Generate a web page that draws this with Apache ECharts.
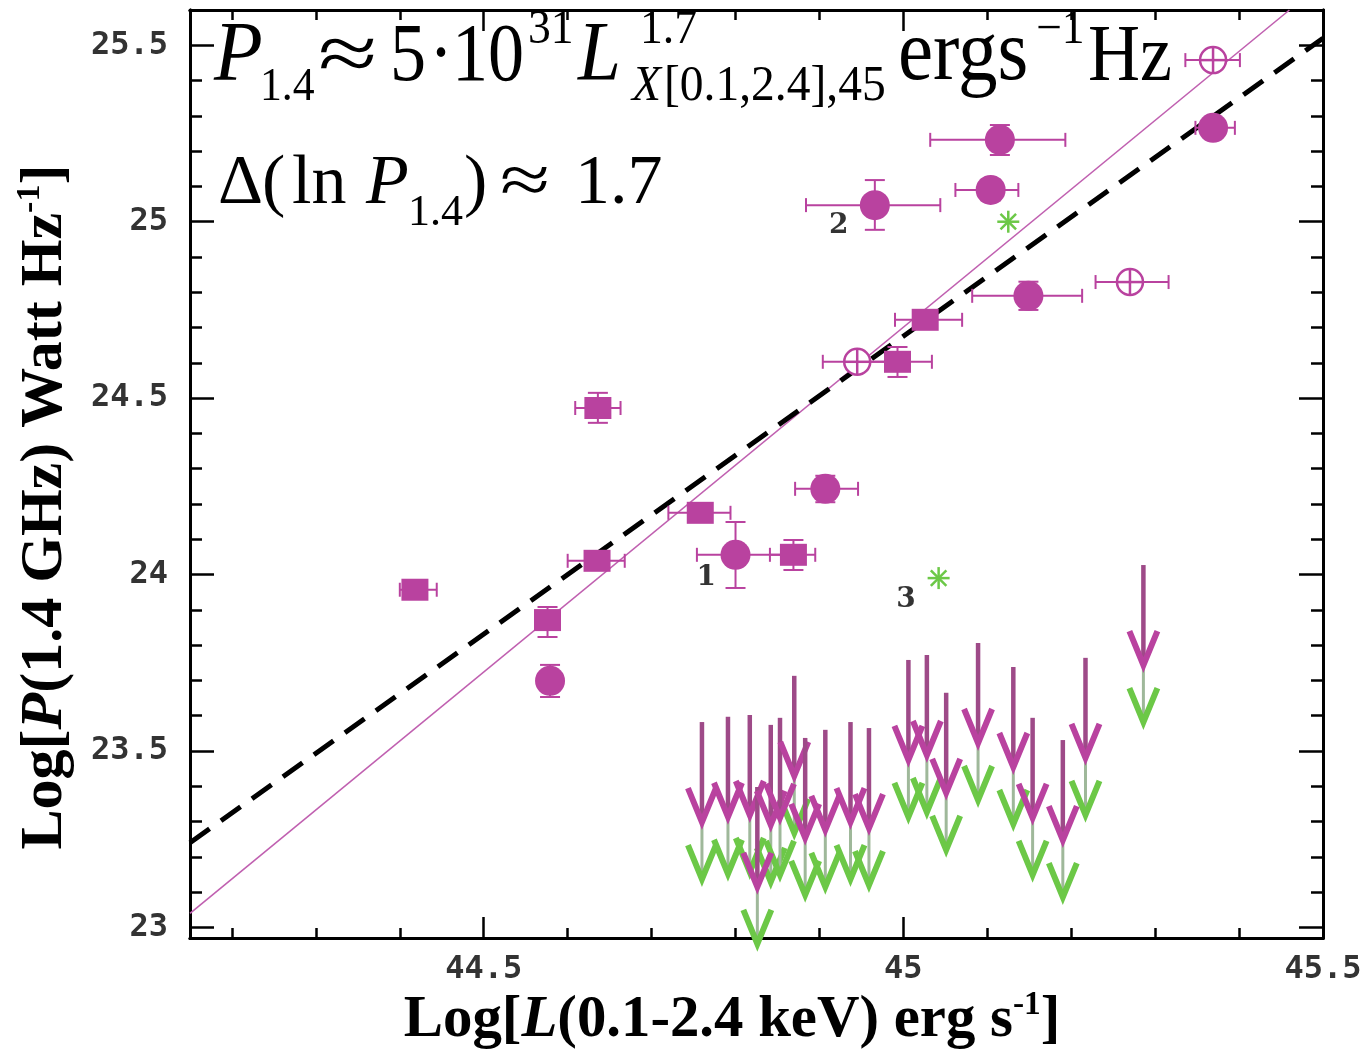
<!DOCTYPE html>
<html>
<head>
<meta charset="utf-8">
<title>P1.4 - LX</title>
<script src="https://cdn.jsdelivr.net/npm/echarts@6/dist/echarts.min.js"></script>
<style>html,body{margin:0;padding:0;background:#fff;} #main{width:1368px;height:1052px;}</style>
</head>
<body>
<div id="main"></div>
<script>
// axis ranges and ticks
var xMin = 44.15, xMax = 45.5;
var yMin = 22.97, yMax = 25.6;
var xMajor = [44.5, 45, 45.5];
var xMinor = [44.2, 44.3, 44.4, 44.6, 44.7, 44.8, 44.9, 45.1, 45.2, 45.3, 45.4];
var yMajor = [23, 23.5, 24, 24.5, 25, 25.5];
var yMinor = [23.1, 23.2, 23.3, 23.4, 23.6, 23.7, 23.8, 23.9, 24.1, 24.2, 24.3, 24.4,
              24.6, 24.7, 24.8, 24.9, 25.1, 25.2, 25.3, 25.4];

// [x, y, xlo, xhi, ylo, yhi]
var circles = [
  [45.115, 25.232, 45.032, 45.193, 25.189, 25.274],
  [45.104, 25.090, 45.062, 45.137, 25.060, 25.120],
  [44.966, 25.047, 44.884, 45.044, 24.977, 25.118],
  [45.369, 25.266, 45.348, 45.395, 25.240, 25.290],
  [45.149, 24.790, 45.082, 45.213, 24.750, 24.830],
  [44.907, 24.243, 44.871, 44.946, 24.205, 24.280],
  [44.800, 24.056, 44.754, 44.856, 23.962, 24.149],
  [44.579, 23.699, 44.565, 44.593, 23.653, 23.744]
];
var squares = [
  [44.636, 24.472, 44.609, 44.663, 24.430, 24.515],
  [44.418, 23.957, 44.400, 44.444, 23.957, 23.957],
  [44.576, 23.871, 44.576, 44.576, 23.823, 23.908],
  [44.635, 24.039, 44.600, 44.668, 24.039, 24.039],
  [44.758, 24.175, 44.720, 44.794, 24.175, 24.175],
  [44.869, 24.056, 44.841, 44.895, 24.013, 24.098],
  [44.993, 24.603, 44.956, 45.034, 24.560, 24.645],
  [45.026, 24.722, 44.990, 45.070, 24.722, 24.722]
];
var openCircles = [
  [44.945, 24.603, 44.904, 44.996, 24.603, 24.603],
  [45.270, 24.829, 45.229, 45.316, 24.829, 24.829],
  [45.369, 25.458, 45.336, 45.401, 25.458, 25.458]
];
var stars = [[45.125, 25.000], [45.042, 23.990]];
// upper limits [x, y]
var limits = [
  [44.760, 23.582], [44.791, 23.597], [44.817, 23.602], [44.826, 23.398], [44.842, 23.574],
  [44.853, 23.594], [44.870, 23.713], [44.883, 23.537], [44.907, 23.560], [44.937, 23.582],
  [44.959, 23.565], [45.006, 23.758], [45.028, 23.772], [45.051, 23.665], [45.089, 23.806],
  [45.131, 23.738], [45.154, 23.594], [45.190, 23.531], [45.217, 23.764], [45.286, 24.027]
];
var fitLine = [[44.15, 23.04], [45.46, 25.60]];
var corrLine = [[44.15, 23.24], [45.50, 25.52]];
var tags = [[44.765, 23.99, '1'], [44.923, 24.99, '2'], [45.003, 23.93, '3']];

var MAG = '#b9429f';
var MAGD = '#9e4a88';
var GRN = '#6cc847';

var myChart = echarts.init(document.getElementById('main'));

function xAx(pos, ticks, len, labels) {
  return {
    type: 'value', min: xMin, max: xMax, position: pos,
    axisLine: {show: true, onZero: false, lineStyle: {color: '#000', width: 3}},
    axisTick: {show: true, inside: true, length: len, customValues: ticks, lineStyle: {color: '#000', width: 2.5}},
    axisLabel: labels ? {show: true, customValues: xMajor, margin: 16, fontFamily: 'DejaVu Sans Mono',
      fontWeight: 'bold', fontSize: 32, color: '#333'} : {show: false},
    splitLine: {show: false}
  };
}
function yAx(pos, ticks, len, labels) {
  return {
    type: 'value', min: yMin, max: yMax, position: pos,
    axisLine: {show: true, onZero: false, lineStyle: {color: '#000', width: 3}},
    axisTick: {show: true, inside: true, length: len, customValues: ticks, lineStyle: {color: '#000', width: 2.5}},
    axisLabel: labels ? {show: true, customValues: yMajor, margin: 22, fontFamily: 'DejaVu Sans Mono',
      fontWeight: 'bold', fontSize: 32, color: '#333'} : {show: false},
    splitLine: {show: false}
  };
}

// error bars with caps
function errRender(params, api) {
  var x = api.value(0), y = api.value(1);
  var xl = api.value(2), xh = api.value(3), yl = api.value(4), yh = api.value(5);
  var st = {stroke: MAG, lineWidth: 2};
  var ch = [];
  if (xh > xl) {
    var a = api.coord([xl, y]), b = api.coord([xh, y]);
    ch.push({type: 'line', shape: {x1: a[0], y1: a[1], x2: b[0], y2: b[1]}, style: st});
    ch.push({type: 'line', shape: {x1: a[0], y1: a[1] - 7, x2: a[0], y2: a[1] + 7}, style: st});
    ch.push({type: 'line', shape: {x1: b[0], y1: b[1] - 7, x2: b[0], y2: b[1] + 7}, style: st});
  }
  if (yh > yl) {
    var c = api.coord([x, yl]), d = api.coord([x, yh]);
    ch.push({type: 'line', shape: {x1: c[0], y1: c[1], x2: d[0], y2: d[1]}, style: st});
    ch.push({type: 'line', shape: {x1: c[0] - 10, y1: c[1], x2: c[0] + 10, y2: c[1]}, style: st});
    ch.push({type: 'line', shape: {x1: d[0] - 10, y1: d[1], x2: d[0] + 10, y2: d[1]}, style: st});
  }
  return {type: 'group', children: ch};
}

function openRender(params, api) {
  var p = api.coord([api.value(0), api.value(1)]);
  var st = {stroke: MAG, lineWidth: 2.5, fill: null};
  return {type: 'group', children: [
    {type: 'circle', shape: {cx: p[0], cy: p[1], r: 13}, style: {stroke: MAG, lineWidth: 2.5, fill: '#fff'}},
    {type: 'line', shape: {x1: p[0] - 13, y1: p[1], x2: p[0] + 13, y2: p[1]}, style: st},
    {type: 'line', shape: {x1: p[0], y1: p[1] - 13, x2: p[0], y2: p[1] + 13}, style: st}
  ]};
}

function starRender(params, api) {
  var p = api.coord([api.value(0), api.value(1)]);
  var ch = [], r = 11;
  for (var k = 0; k < 4; k++) {
    var ang = k * Math.PI / 4;
    ch.push({type: 'line', shape: {x1: p[0] - r * Math.cos(ang), y1: p[1] - r * Math.sin(ang),
      x2: p[0] + r * Math.cos(ang), y2: p[1] + r * Math.sin(ang)}, style: {stroke: GRN, lineWidth: 2.5}});
  }
  return {type: 'group', children: ch};
}

function head(x, tip, col) {
  return {type: 'polyline', shape: {points: [[x - 14, tip - 34], [x, tip], [x + 14, tip - 34]]},
    style: {stroke: col, lineWidth: 6, fill: null, lineJoin: 'miter'}};
}
function greenArrow(params, api) {
  var p = api.coord([api.value(0), api.value(1)]);
  var tip = p[1] + 157;
  return {type: 'group', children: [
    {type: 'line', shape: {x1: p[0], y1: p[1] + 90, x2: p[0], y2: tip}, style: {stroke: '#9fb89a', lineWidth: 3}},
    head(p[0], tip, GRN)
  ]};
}
function magArrow(params, api) {
  var p = api.coord([api.value(0), api.value(1)]);
  var tip = p[1] + 100;
  return {type: 'group', children: [
    {type: 'line', shape: {x1: p[0], y1: p[1], x2: p[0], y2: tip}, style: {stroke: MAGD, lineWidth: 4.5}},
    head(p[0], tip, MAG)
  ]};
}

// formula pieces
function piece(text, x, base, size, italic, sx) {
  return {type: 'text', x: x, y: base - 0.34 * size, scaleX: sx || 1, z: 100,
    style: {text: text, fontFamily: 'Liberation Serif', fontSize: size,
      fontStyle: italic ? 'italic' : 'normal', fill: '#000', align: 'left', verticalAlign: 'middle'}};
}

var titleRich = {
  b: {fontFamily: 'Liberation Serif', fontWeight: 'bold', fontSize: 60, lineHeight: 64, fill: '#000'},
  bi: {fontFamily: 'Liberation Serif', fontWeight: 'bold', fontStyle: 'italic', fontSize: 60, lineHeight: 64, fill: '#000'},
  sup: {fontFamily: 'Liberation Serif', fontWeight: 'bold', fontSize: 34, lineHeight: 34, verticalAlign: 'top', fill: '#000'}
};

var graphics = [
  {type: 'text', x: 732, y: 1020, scaleX: 0.98, z: 100, style: {
    text: '{b|Log[}{bi|L}{b|(0.1-2.4 keV) erg s}{sup|-1}{b|]}', rich: titleRich,
    align: 'center', verticalAlign: 'middle'}},
  {type: 'text', x: 45, y: 507, rotation: Math.PI / 2, scaleX: 1.0, z: 100, style: {
    text: '{b|Log[}{bi|P}{b|(1.4 GHz) Watt Hz}{sup|-1}{b|]}', rich: titleRich,
    align: 'center', verticalAlign: 'middle'}},
  // line 1
  piece('P', 214, 86, 84, true, 0.95),
  piece('1.4', 260, 104, 46, false, 0.95),
  piece('\u2248', 318, 86, 80, false, 1.35),
  piece('5', 390, 86, 82, false, 0.88),
  piece('\u00b7', 429, 86, 82, false, 0.88),
  piece('10', 452, 86, 82, false, 0.88),
  piece('31', 528, 47, 48, false, 0.95),
  piece('L', 578, 86, 84, true, 0.92),
  piece('1.7', 640, 47, 48, false, 0.95),
  piece('X', 632, 104, 50, true, 0.95),
  piece('[0.1,2.4],45', 664, 104, 50, false, 0.95),
  piece('ergs', 898, 86, 86, false, 0.92),
  piece('\u22121', 1036, 47, 48, false, 0.95),
  piece('Hz', 1088, 86, 80, false, 0.9),
  // line 2
  piece('\u0394', 218, 208, 70),
  piece('(', 262, 208, 70),
  piece('ln', 292, 208, 70),
  piece('P', 366, 208, 70, true),
  piece('1.4', 408, 228, 44),
  piece(')', 464, 208, 70),
  piece('\u2248', 500, 208, 70, false, 1.3),
  piece('1.7', 575, 208, 70)
];

var option = {
  animation: false,
  backgroundColor: '#fff',
  grid: {left: 190, right: 45, top: 10, bottom: 114, containLabel: false},
  xAxis: [xAx('bottom', xMajor, 21, true), xAx('bottom', xMinor, 10, false),
          xAx('top', xMajor, 21, false), xAx('top', xMinor, 10, false)],
  yAxis: [yAx('left', yMajor, 24, true), yAx('left', yMinor, 12, false),
          yAx('right', yMajor, 24, false), yAx('right', yMinor, 12, false)],
  graphic: graphics,
  series: [
    {type: 'line', data: fitLine, showSymbol: false, lineStyle: {color: '#c060b0', width: 1.6}, z: 2},
    {type: 'line', data: corrLine, showSymbol: false, lineStyle: {color: '#000', width: 5, type: [24, 14]}, z: 3},
    {type: 'custom', renderItem: greenArrow, data: limits, z: 4},
    {type: 'custom', renderItem: magArrow, data: limits, z: 5},
    {type: 'custom', renderItem: errRender, data: circles.concat(squares, openCircles), z: 6},
    {type: 'scatter', data: circles, symbol: 'circle', symbolSize: 30, itemStyle: {color: MAG, opacity: 1}, z: 7},
    {type: 'scatter', data: squares, symbol: 'rect', symbolSize: [27, 22], itemStyle: {color: MAG, opacity: 1}, z: 7},
    {type: 'custom', renderItem: openRender, data: openCircles, z: 7},
    {type: 'custom', renderItem: starRender, data: stars, z: 7},
    {type: 'scatter', data: tags, symbolSize: 0, z: 8,
      label: {show: true, position: 'inside', formatter: function (p) { return p.value[2]; },
        fontFamily: 'DejaVu Serif', fontWeight: 'bold', fontSize: 28, color: '#000'}}
  ]
};
myChart.setOption(option);
</script>
</body>
</html>
